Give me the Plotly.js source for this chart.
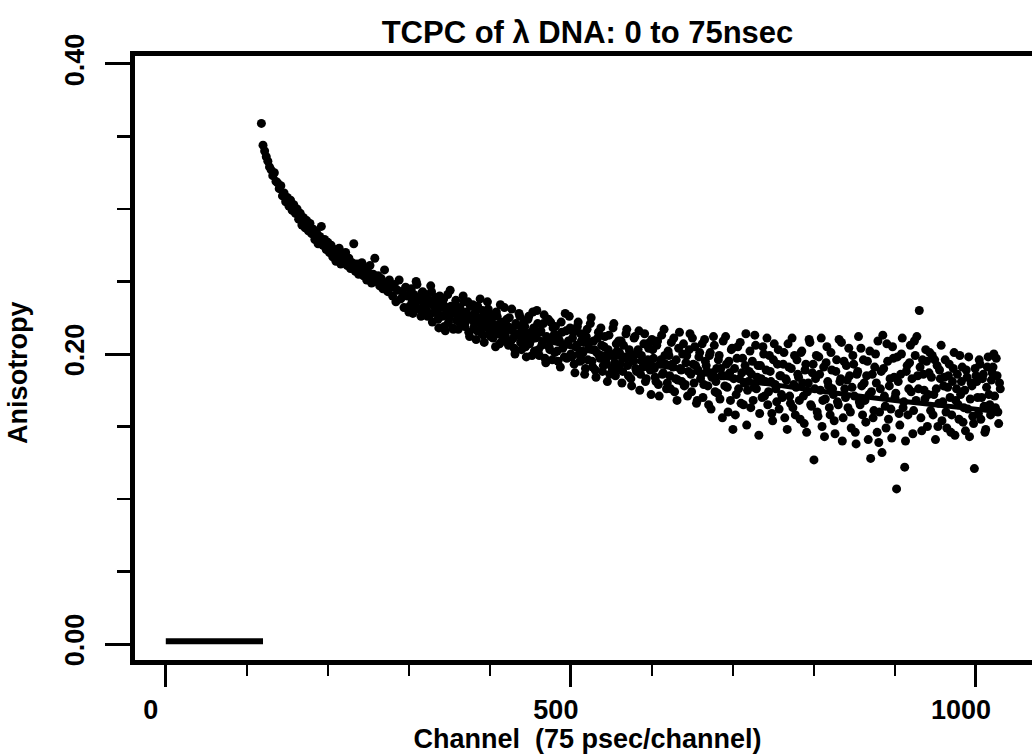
<!DOCTYPE html>
<html>
<head>
<meta charset="utf-8">
<script src="https://cdn.plot.ly/plotly-3.0.1.min.js"></script>
<style>
html,body{margin:0;padding:0;overflow:hidden;background:#fff;width:1032px;height:754px;}
#chart{width:1045px;height:754px;}
</style>
</head>
<body>
<div id="chart"></div>
<script>
// ---- data ----
// readings on even channels (118, 120, ... 1030)
const EVEN_START = 118;
const EVEN_STEP = 2;
const anisotropyEven = [
  0.359, 0.344, 0.340, 0.336, 0.333, 0.329, 0.327, 0.323, 0.325, 0.319, 0.318, 0.314,
  0.316, 0.309, 0.311, 0.305, 0.308, 0.302, 0.306, 0.299, 0.303, 0.297,
  0.300, 0.293, 0.297, 0.289, 0.294, 0.287, 0.292, 0.285, 0.290, 0.283,
  0.286, 0.279, 0.284, 0.276, 0.281, 0.288, 0.275, 0.279, 0.272, 0.277,
  0.270, 0.275, 0.267, 0.272, 0.264, 0.269, 0.273, 0.262, 0.268, 0.265,
  0.270, 0.261, 0.266, 0.259, 0.263, 0.276, 0.257, 0.262, 0.255, 0.260,
  0.263, 0.254, 0.259, 0.251, 0.256, 0.261, 0.249, 0.255, 0.266, 0.250,
  0.254, 0.247, 0.252, 0.245, 0.258, 0.249, 0.243, 0.251, 0.246, 0.240,
  0.248, 0.236, 0.244, 0.251, 0.238, 0.243, 0.232, 0.246, 0.240, 0.229,
  0.244, 0.236, 0.241, 0.233, 0.248, 0.237, 0.231, 0.242, 0.235, 0.239,
  0.230, 0.238, 0.227, 0.243, 0.234, 0.229, 0.236, 0.224, 0.240, 0.232,
  0.235, 0.219, 0.228, 0.241, 0.225, 0.233, 0.218, 0.230, 0.237, 0.226,
  0.231, 0.220, 0.228, 0.236, 0.222, 0.227, 0.215, 0.233, 0.224, 0.218,
  0.229, 0.216, 0.225, 0.238, 0.220, 0.213, 0.227, 0.219, 0.231, 0.214,
  0.224, 0.211, 0.220, 0.229, 0.215, 0.207, 0.222, 0.217, 0.232, 0.210,
  0.219, 0.225, 0.209, 0.216, 0.204, 0.221, 0.213, 0.228, 0.208, 0.217,
  0.222, 0.205, 0.214, 0.226, 0.209, 0.199, 0.218, 0.211, 0.230, 0.203,
  0.215, 0.206, 0.221, 0.197, 0.212, 0.224, 0.203, 0.210, 0.218, 0.201,
  0.213, 0.195, 0.209, 0.222, 0.204, 0.198, 0.216, 0.207, 0.226, 0.200,
  0.211, 0.193, 0.205, 0.219, 0.200, 0.214, 0.196, 0.208, 0.190, 0.217,
  0.204, 0.221, 0.195, 0.209, 0.189, 0.201, 0.215, 0.197, 0.206, 0.192,
  0.212, 0.193, 0.203, 0.186, 0.199, 0.218, 0.194, 0.207, 0.190, 0.201,
  0.209, 0.188, 0.198, 0.214, 0.192, 0.203, 0.183, 0.197, 0.211, 0.190,
  0.200, 0.216, 0.186, 0.195, 0.207, 0.181, 0.193, 0.204, 0.189, 0.210,
  0.197, 0.184, 0.206, 0.179, 0.193, 0.213, 0.187, 0.199, 0.176, 0.202,
  0.185, 0.208, 0.191, 0.174, 0.196, 0.182, 0.215, 0.189, 0.200, 0.178,
  0.194, 0.171, 0.203, 0.186, 0.211, 0.180, 0.192, 0.168, 0.198, 0.183,
  0.207, 0.179, 0.195, 0.188, 0.165, 0.201, 0.184, 0.212, 0.174, 0.190,
  0.196, 0.169, 0.185, 0.209, 0.178, 0.193, 0.160, 0.187, 0.203, 0.148,
  0.190, 0.172, 0.205, 0.183, 0.166, 0.197, 0.180, 0.214, 0.175, 0.188,
  0.163, 0.195, 0.177, 0.206, 0.184, 0.144, 0.192, 0.170, 0.200, 0.181,
  0.211, 0.174, 0.188, 0.159, 0.196, 0.179, 0.167, 0.203, 0.185, 0.172,
  0.193, 0.156, 0.182, 0.207, 0.171, 0.190, 0.163, 0.199, 0.177, 0.186,
  0.168, 0.201, 0.180, 0.152, 0.193, 0.174, 0.210, 0.165, 0.187, 0.127,
  0.183, 0.160, 0.198, 0.175, 0.150, 0.191, 0.169, 0.205, 0.178, 0.158,
  0.189, 0.172, 0.145, 0.196, 0.165, 0.181, 0.208, 0.156, 0.176, 0.192,
  0.163, 0.185, 0.149, 0.199, 0.171, 0.138, 0.188, 0.167, 0.204, 0.158,
  0.180, 0.153, 0.195, 0.172, 0.128, 0.186, 0.161, 0.200, 0.146, 0.139,
  0.176, 0.132, 0.190, 0.164, 0.207, 0.155, 0.183, 0.142, 0.197, 0.170,
  0.107, 0.181, 0.151, 0.200, 0.163, 0.122, 0.188, 0.158, 0.194, 0.174,
  0.145, 0.209, 0.168, 0.185, 0.230, 0.156, 0.196, 0.175, 0.203, 0.150,
  0.187, 0.161, 0.199, 0.172, 0.141, 0.192, 0.166, 0.183, 0.154, 0.178,
  0.196, 0.149, 0.185, 0.170, 0.158, 0.190, 0.144, 0.176, 0.165, 0.199,
  0.181, 0.153, 0.175, 0.189, 0.162, 0.143, 0.180, 0.157, 0.121, 0.185,
  0.170, 0.196, 0.155, 0.183, 0.164, 0.148, 0.191, 0.172, 0.158, 0.187,
  0.200, 0.163, 0.185, 0.152, 0.176
];
// readings on odd channels (301, 303, ... 1029)
const ODD_START = 301;
const ODD_STEP = 2;
const anisotropyOdd = [
  0.233, 0.245, 0.228, 0.239, 0.250, 0.231, 0.238, 0.226, 0.243, 0.236,
  0.241, 0.226, 0.235, 0.247, 0.222, 0.233, 0.239, 0.228, 0.218, 0.236,
  0.226, 0.238, 0.216, 0.232, 0.222, 0.244, 0.229, 0.217, 0.234, 0.223,
  0.217, 0.232, 0.225, 0.240, 0.219, 0.229, 0.236, 0.212, 0.226, 0.234,
  0.221, 0.210, 0.233, 0.224, 0.215, 0.230, 0.208, 0.223, 0.236, 0.217,
  0.212, 0.227, 0.218, 0.205, 0.226, 0.214, 0.234, 0.209, 0.221, 0.213,
  0.224, 0.206, 0.218, 0.231, 0.211, 0.200, 0.220, 0.214, 0.226, 0.203,
  0.210, 0.219, 0.198, 0.224, 0.207, 0.215, 0.229, 0.202, 0.213, 0.221,
  0.199, 0.216, 0.208, 0.227, 0.194, 0.211, 0.205, 0.222, 0.196, 0.213,
  0.219, 0.202, 0.210, 0.191, 0.215, 0.206, 0.228, 0.197, 0.209, 0.218,
  0.198, 0.215, 0.187, 0.206, 0.222, 0.195, 0.209, 0.201, 0.186, 0.212,
  0.196, 0.208, 0.225, 0.191, 0.203, 0.184, 0.211, 0.199, 0.218, 0.188,
  0.205, 0.196, 0.181, 0.213, 0.200, 0.190, 0.221, 0.185, 0.202, 0.209,
  0.193, 0.180, 0.206, 0.197, 0.217, 0.185, 0.201, 0.178, 0.195, 0.212,
  0.188, 0.203, 0.175, 0.199, 0.191, 0.214, 0.183, 0.196, 0.208, 0.172,
  0.203, 0.190, 0.181, 0.209, 0.171, 0.196, 0.186, 0.217, 0.193, 0.180,
  0.199, 0.176, 0.193, 0.211, 0.183, 0.168, 0.204, 0.190, 0.181, 0.207,
  0.179, 0.199, 0.188, 0.214, 0.174, 0.193, 0.205, 0.166, 0.189, 0.201,
  0.186, 0.170, 0.210, 0.192, 0.178, 0.199, 0.162, 0.187, 0.206, 0.181,
  0.173, 0.199, 0.190, 0.156, 0.185, 0.212, 0.177, 0.195, 0.168, 0.204,
  0.183, 0.158, 0.197, 0.176, 0.208, 0.187, 0.165, 0.192, 0.151, 0.181,
  0.202, 0.186, 0.168, 0.213, 0.176, 0.192, 0.159, 0.183, 0.205, 0.171,
  0.189, 0.165, 0.199, 0.181, 0.154, 0.207, 0.176, 0.193, 0.162, 0.185,
  0.170, 0.201, 0.183, 0.148, 0.191, 0.166, 0.211, 0.179, 0.158, 0.196,
  0.184, 0.155, 0.202, 0.171, 0.189, 0.146, 0.180, 0.208, 0.164, 0.193,
  0.176, 0.199, 0.157, 0.186, 0.211, 0.168, 0.143, 0.194, 0.181, 0.163,
  0.201, 0.176, 0.154, 0.188, 0.167, 0.210, 0.183, 0.140, 0.195, 0.170,
  0.182, 0.204, 0.160, 0.177, 0.193, 0.146, 0.186, 0.212, 0.165, 0.178,
  0.196, 0.168, 0.185, 0.141, 0.202, 0.174, 0.156, 0.191, 0.180, 0.209,
  0.160, 0.188, 0.213, 0.171, 0.149, 0.195, 0.178, 0.162, 0.205, 0.184,
  0.173, 0.198, 0.159, 0.186, 0.211, 0.167, 0.140, 0.192, 0.176, 0.206,
  0.183, 0.161, 0.199, 0.212, 0.176, 0.191, 0.147, 0.186, 0.169, 0.195,
  0.172, 0.201, 0.184, 0.158, 0.196, 0.176, 0.150, 0.189, 0.206, 0.167,
  0.184, 0.160, 0.177, 0.193, 0.146, 0.181, 0.201, 0.168, 0.186, 0.155,
  0.172, 0.191, 0.163, 0.147, 0.184, 0.198, 0.169, 0.178, 0.152, 0.190,
  0.181, 0.159, 0.193, 0.170, 0.186, 0.146, 0.177, 0.198, 0.165, 0.182,
  0.191, 0.171, 0.197, 0.160, 0.180
];
const fitChannels = [120, 130, 140, 150, 170, 190, 220, 250, 300, 350, 400, 450, 500, 600, 700, 800, 900, 1000, 1030];
const fitValues   = [0.343, 0.327, 0.315, 0.303, 0.290, 0.277, 0.264, 0.254, 0.240, 0.230, 0.220, 0.212, 0.205, 0.193, 0.183, 0.175, 0.168, 0.162, 0.160];
const baselineChannels = [0, 120];
const baselineValues = [0.002, 0.002];
const yTickValues = [0, 0.2, 0.4];
const yTickLabels = ["0.00", "0.20", "0.40"];
const xTickValues = [0, 500, 1000];
const xTickLabels = ["0", "500", "1000"];

const FONT = "Liberation Sans, Arial, Helvetica, sans-serif";
const dot = {color: "#000", size: 9};

const traces = [
  {
    type: "scatter", mode: "markers", name: "even channels",
    x0: EVEN_START, dx: EVEN_STEP, y: anisotropyEven,
    marker: dot, showlegend: false
  },
  {
    type: "scatter", mode: "markers", name: "odd channels",
    x0: ODD_START, dx: ODD_STEP, y: anisotropyOdd,
    marker: dot, showlegend: false
  },
  {
    type: "scatter", mode: "lines", name: "fit",
    x: fitChannels, y: fitValues,
    line: {color: "#000", width: 5, shape: "spline", smoothing: 0.8},
    showlegend: false
  },
  {
    type: "scatter", mode: "lines", name: "baseline",
    x: baselineChannels, y: baselineValues,
    line: {color: "#000", width: 6},
    showlegend: false
  }
];

const layout = {
  width: 1045, height: 754,
  paper_bgcolor: "#fff", plot_bgcolor: "#fff",
  margin: {l: 135, r: 5, t: 56, b: 94},
  showlegend: false,
  title: {
    text: "TCPC of \u03bb DNA: 0 to 75nsec",
    font: {family: FONT, size: 31, color: "#000", weight: "bold"},
    x: 0.5, xref: "paper", xanchor: "center",
    y: 0.958, yref: "container", yanchor: "middle"
  },
  xaxis: {
    range: [-38, 1079],
    showgrid: false, zeroline: false,
    showline: true, linecolor: "#000", linewidth: 5, mirror: true,
    ticks: "outside", ticklen: 22, tickwidth: 3, tickcolor: "#000",
    tickvals: xTickValues, ticktext: xTickLabels,
    ticklabelstandoff: 0,
    ticklabelshift: -15,
    tickfont: {family: FONT, size: 27, color: "#000", weight: "bold"},
    minor: {dtick: 100, ticks: "outside", ticklen: 11, tickwidth: 2.5, tickcolor: "#000", showgrid: false},
    title: {
      text: "Channel\u00a0\u00a0(75 psec/channel)",
      font: {family: FONT, size: 27, color: "#000", weight: "bold"},
      standoff: 2
    }
  },
  yaxis: {
    range: [-0.011, 0.4055],
    showgrid: false, zeroline: false,
    showline: true, linecolor: "#000", linewidth: 5, mirror: true,
    ticks: "outside", ticklen: 25, tickwidth: 3, tickcolor: "#000",
    tickvals: yTickValues, ticktext: yTickLabels,
    tickangle: -90,
    ticklabelstandoff: 10,
    tickfont: {family: FONT, size: 27, color: "#000", weight: "bold"},
    minor: {dtick: 0.05, ticks: "outside", ticklen: 13, tickwidth: 2.5, tickcolor: "#000", showgrid: false}
  },
  annotations: [
    {
      text: "Anisotropy", textangle: -90, showarrow: false,
      xref: "paper", x: -0.1293, xanchor: "center",
      yref: "paper", y: 0.477, yanchor: "middle",
      font: {family: FONT, size: 27, color: "#000", weight: "bold"}
    }
  ]
};

Plotly.newPlot("chart", traces, layout, {displayModeBar: false, staticPlot: true});
</script>
</body>
</html>
